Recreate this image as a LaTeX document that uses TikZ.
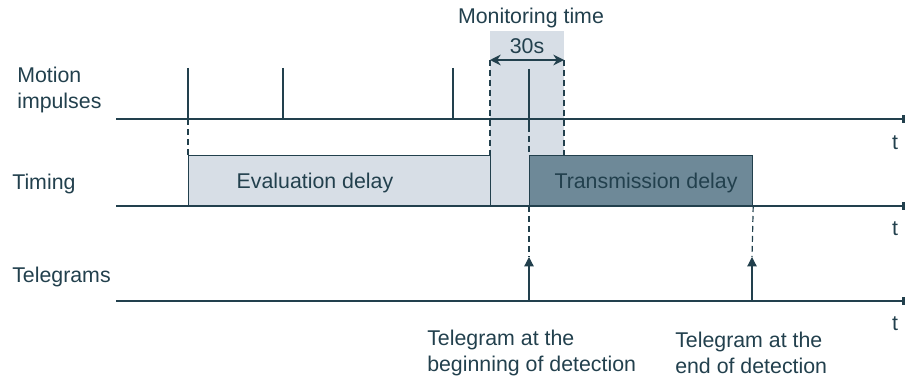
\documentclass[tikz,border=0pt]{standalone}
\usepackage{fontspec}
\setmainfont{Liberation Sans}
\usetikzlibrary{arrows.meta}
\definecolor{ink}{HTML}{22404D}
\definecolor{lightfill}{HTML}{D7DEE6}
\definecolor{darkfill}{HTML}{6E8998}
\tikzset{
  every node/.style={text=ink, font=\fontsize{16}{19}\selectfont, inner sep=0pt},
  axis/.style={draw=ink, line width=0.9pt, -{Rectangle[length=2.2pt,width=6pt]}},
  pulse/.style={draw=ink, line width=0.9pt},
  dashline/.style={draw=ink, line width=0.9pt, dash pattern=on 4.5pt off 3pt},
  tele/.style={draw=ink, line width=0.9pt, -{Triangle[length=7pt,width=7pt]}},
  dimarrow/.style={draw=ink, line width=1.2pt, {Stealth[length=8pt,width=8pt]}-{Stealth[length=8pt,width=8pt]}},
  boxline/.style={draw=ink, line width=0.9pt}
}
\begin{document}
\begin{tikzpicture}[x=0.75pt,y=-0.75pt]
\useasboundingbox (0,0) rectangle (907,381);
% monitoring shaded region
\fill[lightfill] (490,31) rectangle (564,206);
% boxes
\node[boxline, fill=lightfill, minimum width=302*0.75pt, minimum height=50*0.75pt, anchor=south west] (eval) at (188,206) {};
\node[boxline, fill=darkfill, minimum width=223*0.75pt, minimum height=50*0.75pt, anchor=south west] (trans) at (529,206) {};
\node (evaltxt) at (315,183) {Evaluation delay};
\node (transtxt) at (646,183) {Transmission delay};
% axes
\coordinate (a1s) at (116,119); \coordinate (a1e) at (905,119);
\coordinate (a2s) at (116,206); \coordinate (a2e) at (905,206);
\coordinate (a3s) at (116,301); \coordinate (a3e) at (905,301);
\draw[axis] (a1s) -- (a1e);
\draw[axis] (a2s) -- (a2e);
\draw[axis] (a3s) -- (a3e);
\node (t1) at (895,143) {t};
\node (t2) at (895,229) {t};
\node (t3) at (895,324) {t};
% motion impulses
\coordinate (p1) at (188,68); \coordinate (p1b) at (188,119);
\coordinate (p2) at (283,68); \coordinate (p2b) at (283,119);
\coordinate (p3) at (453,68); \coordinate (p3b) at (453,119);
\coordinate (p4) at (529,69); \coordinate (p4b) at (529,126);
\draw[pulse] (p1) -- (p1b);
\draw[pulse] (p2) -- (p2b);
\draw[pulse] (p3) -- (p3b);
\draw[pulse] (p4) -- (p4b);
% dashed guides
\draw[dashline] (p1b) -- (eval.north west);
\draw[dashline] (p4b) -- (trans.north west);
\coordinate (m1) at (490,60); \coordinate (m2) at (564,60);
\coordinate (m1b) at (490,156); \coordinate (m2b) at (564,156);
\draw[dashline] (m1) -- (m1b);
\draw[dashline] (m2) -- (m2b);
\draw[dimarrow] (m1) -- (m2);
\node (dur) at (527,46) {30s};
\node (montxt) at (531,18) {Monitoring time};
% telegrams
\coordinate (g1) at (529,301); \coordinate (g1t) at (529,257);
\coordinate (g2) at (752,301); \coordinate (g2t) at (752,257);
\draw[dashline] (trans.south west) -- (g1t);
\draw[dashline] (trans.south east) -- (g2t);
\draw[tele] (g1) -- (g1t);
\draw[tele] (g2) -- (g2t);
% labels
\node[anchor=west, align=left] (lmot) at (17,90) {Motion\\impulses};
\node[anchor=west] (ltim) at (12,184) {Timing};
\node[anchor=west] (ltel) at (12,277) {Telegrams};
\node[anchor=west, align=left] (lb1) at (427,353) {Telegram at the\\beginning of detection};
\node[anchor=west, align=left] (lb2) at (675,353) {Telegram at the\\end of detection};
\end{tikzpicture}
\end{document}
